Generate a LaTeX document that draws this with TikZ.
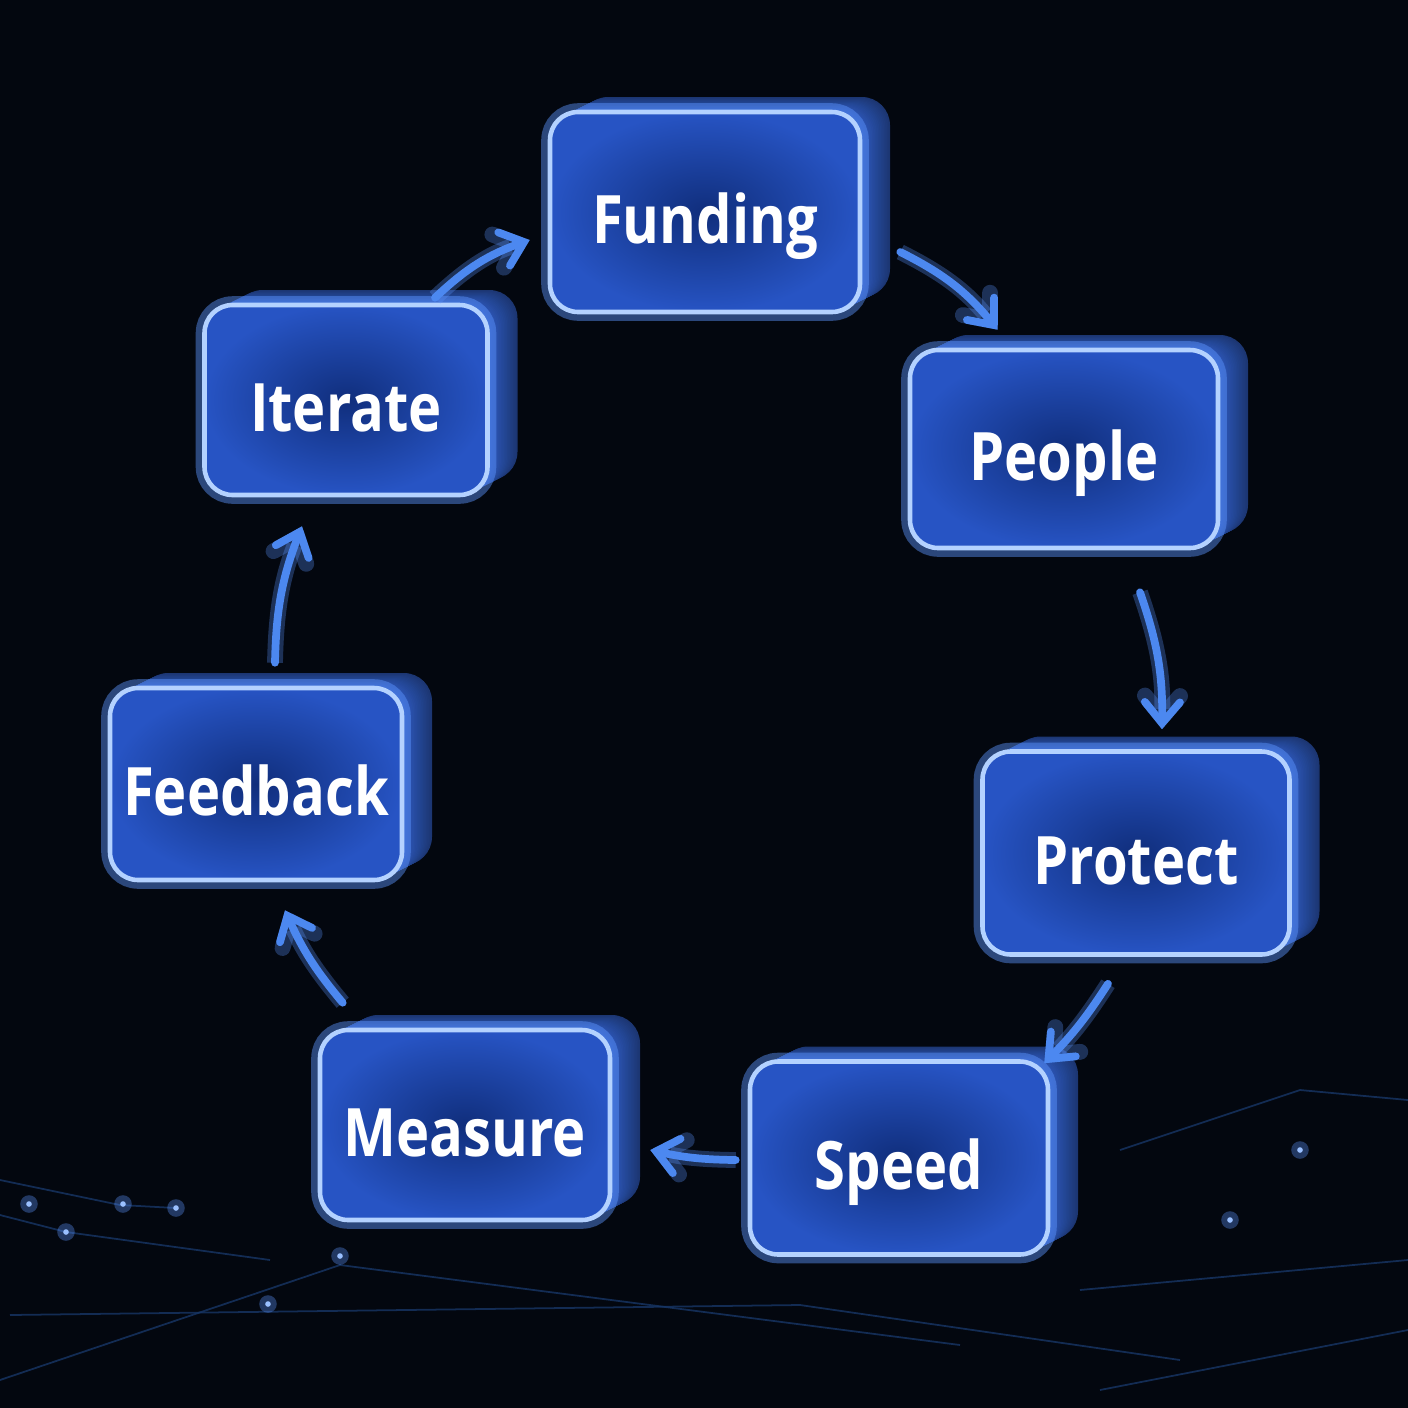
\documentclass[tikz,border=0pt]{standalone}
\usepackage{fontspec}
\newfontfamily\boxfont{Open Sans}[FakeStretch=0.84]
\usetikzlibrary{calc,arrows.meta}

\definecolor{bgdark}{HTML}{03070F}
\definecolor{facemid}{HTML}{102E7C}
\definecolor{faceedge}{HTML}{2754C4}
\definecolor{sideblue}{HTML}{3262D0}
\definecolor{glowblue}{HTML}{5C95FF}
\definecolor{rimblue}{HTML}{B4D2FF}
\definecolor{arrowblue}{HTML}{4C88F0}
\definecolor{traceblue}{HTML}{173666}

% box with extrusion: name, cx, cy, width, height, text
\newcommand{\cyclebox}[6]{%
\foreach \i in {20,...,1}{
\pgfmathsetmacro{\t}{\i/20}
\pgfmathtruncatemacro{\c}{95-\i*2}
\fill[sideblue!\c!black, rounded corners=8pt] ($(#2,#3)+(-#4/2,-#5/2)+\t*(30,-15)$) rectangle ++(#4,#5);
}
\node[cyclenode, minimum width={#4*0.01cm}, minimum height={#5*0.01cm}] (#1) at (#2,#3) {#6};
}
\newcommand{\tracedot}[2]{%
\fill[glowblue, opacity=0.35] (#1,#2) circle (2.5pt);
\fill[rimblue!70!glowblue] (#1,#2) circle (0.8pt);
}

\tikzset{
cyclenode/.style={shade, inner color=facemid, outer color=faceedge, draw=rimblue,
  line width=1.3pt, rounded corners=8pt, text=white,
  text height=18pt, text depth=0pt,
  font=\boxfont\bfseries\fontsize{19}{23}\selectfont,
  preaction={draw=glowblue, line width=5pt, opacity=0.45}},
cyclearrow/.style={draw=arrowblue, line width=2.2pt, line cap=round,
  -{Straight Barb[length=6pt,width=10pt,line cap=round]},
  preaction={draw=glowblue, line width=4.5pt, opacity=0.3}},
circuitline/.style={draw=traceblue, line width=0.5pt, opacity=0.8}
}

\begin{document}
\begin{tikzpicture}[x=0.01cm, y=-0.01cm]

\useasboundingbox (0,0) rectangle (1408,1408);
\fill[bgdark] (0,0) rectangle (1408,1408);

% faint traces
\draw[circuitline] (0,1380) -- (340,1265) -- (960,1345);
\draw[circuitline] (10,1315) -- (800,1305) -- (1180,1360);
\draw[circuitline] (0,1180) -- (120,1205) -- (176,1208);
\draw[circuitline] (0,1215) -- (66,1232) -- (270,1260);
\draw[circuitline] (1080,1290) -- (1408,1260);
\draw[circuitline] (1120,1150) -- (1300,1090) -- (1408,1100);
\draw[circuitline] (1100,1390) -- (1408,1330);
\tracedot{29}{1204}
\tracedot{123}{1204}
\tracedot{176}{1208}
\tracedot{66}{1232}
\tracedot{340}{1256}
\tracedot{268}{1304}
\tracedot{1230}{1220}
\tracedot{1300}{1150}

% boxes
\cyclebox{funding}{705}{212}{310}{200}{Funding}
\cyclebox{people}{1064}{449}{308}{198}{People}
\cyclebox{protect}{1136}{853}{307}{203}{Protect}
\cyclebox{speed}{899}{1158}{298}{193}{Speed}
\cyclebox{measure}{465}{1125}{290}{190}{Measure}
\cyclebox{feedback}{256}{784}{292}{192}{Feedback}
\cyclebox{iterate}{346}{400}{283}{190}{Iterate}

% arrows
\draw[cyclearrow] ($(iterate.north)+(89,-5)$) to[bend left=12] ($(funding.west)+(-18,28)$);
\draw[cyclearrow] ($(funding.east)+(38,40)$) to[bend left=12] ($(people.north west)+(90,-18)$);
\draw[cyclearrow] ($(people.south)+(76,42)$) to[bend left=10] ($(protect.north)+(26,-20)$);
\draw[cyclearrow] ($(protect.south)+(-28,27)$) to[bend left=6] ($(speed.north east)+(-6,4)$);
\draw[cyclearrow] ($(speed.west)+(-12,2)$) to[bend left=6] ($(measure.east)+(38,25)$);
\draw[cyclearrow] ($(measure.north west)+(25,-25)$) to[bend left=8] ($(feedback.south)+(29,28)$);
\draw[cyclearrow] ($(feedback.north)+(19,-23)$) to[bend left=10] ($(iterate.south)+(-44,29)$);

\end{tikzpicture}
\end{document}
